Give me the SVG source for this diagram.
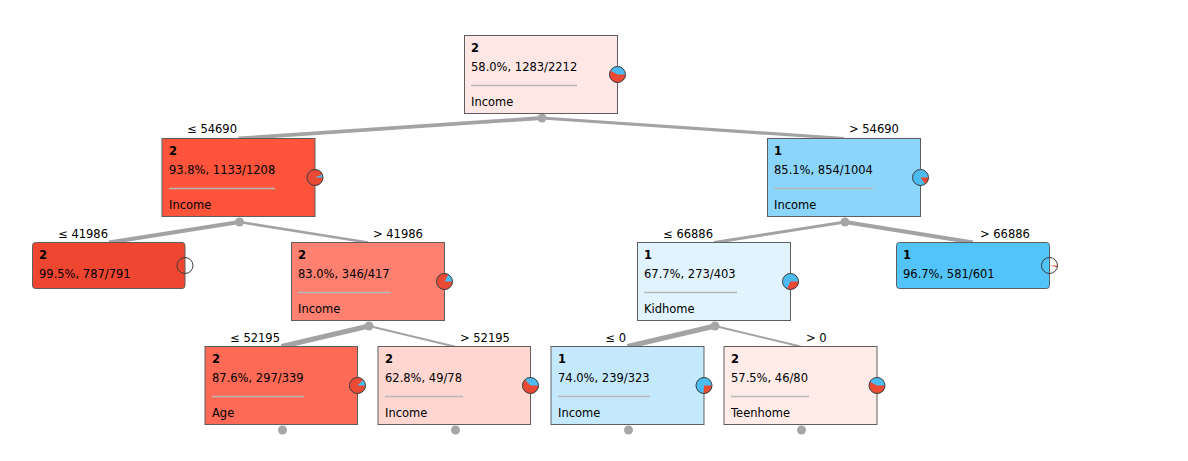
<svg xmlns="http://www.w3.org/2000/svg" width="1188" height="461" viewBox="0 0 1188 461">
<style>
text{font-family:"DejaVu Sans","Verdana",sans-serif;font-size:11.5px;fill:#000}
.b{font-weight:bold}
.box{stroke:#5e5e5e;stroke-width:1}
.sep{stroke:#b8b8b8;stroke-width:1.5}
.e{stroke:#a3a3a6;fill:none;stroke-linecap:butt}
.dot{fill:#a6a6a8}
.pb{fill:#4cbcf0}
.pr{fill:#ea4a33}
.po{fill:none;stroke:#3a3a3a;stroke-width:1}
.lt{text-anchor:end}
</style>
<rect width="1188" height="461" fill="#fff"/>
<g id="connectors">
<line class="e" x1="542" y1="118" x2="238.5" y2="138.5" stroke-width="3.8"/>
<line class="e" x1="542" y1="118" x2="844" y2="138.5" stroke-width="3.2"/>
<line class="e" x1="239.5" y1="222" x2="109" y2="242.5" stroke-width="4.3"/>
<line class="e" x1="239.5" y1="222" x2="368" y2="242.5" stroke-width="2.7"/>
<line class="e" x1="845" y1="222" x2="714" y2="242.5" stroke-width="3"/>
<line class="e" x1="845" y1="222" x2="973" y2="242.5" stroke-width="4"/>
<line class="e" x1="369" y1="326" x2="281.5" y2="346.5" stroke-width="5"/>
<line class="e" x1="369" y1="326" x2="454.5" y2="346.5" stroke-width="1.8"/>
<line class="e" x1="715" y1="326" x2="627.5" y2="346.5" stroke-width="5"/>
<line class="e" x1="715" y1="326" x2="800.5" y2="346.5" stroke-width="2"/>
<g class="dot">
<circle cx="542" cy="118" r="4.5"/>
<circle cx="239.5" cy="222" r="4.5"/>
<circle cx="845" cy="222" r="4.5"/>
<circle cx="369" cy="326" r="4.5"/>
<circle cx="715" cy="326" r="4.5"/>
<circle cx="282.5" cy="430" r="4.5"/>
<circle cx="455.5" cy="430" r="4.5"/>
<circle cx="628.5" cy="430" r="4.5"/>
<circle cx="801.5" cy="430" r="4.5"/>
</g>
<text class="lt" x="237" y="133">≤ 54690</text>
<text x="849" y="133">&gt; 54690</text>
<text class="lt" x="108" y="238">≤ 41986</text>
<text x="373" y="238">&gt; 41986</text>
<text class="lt" x="713" y="238">≤ 66886</text>
<text x="980" y="238">&gt; 66886</text>
<text class="lt" x="280" y="342">≤ 52195</text>
<text x="460" y="342">&gt; 52195</text>
<text class="lt" x="626" y="342">≤ 0</text>
<text x="806" y="342">&gt; 0</text>
</g>
<g id="n0">
<rect class="box" x="464.5" y="35.5" width="153" height="78" fill="#ffe7e5"/>
<text class="b" x="471" y="52">2</text>
<text x="471" y="71">58.0%, 1283/2212</text>
<line class="sep" x1="471" y1="85.5" x2="577" y2="85.5"/>
<text x="471" y="106">Income</text>
<circle class="pb" cx="617.5" cy="74.5" r="8"/>
<path class="pr" d="M617.5,74.5 L625.5,74.5 A8,8 0 1 1 610.49,70.65 Z"/>
<circle class="po" cx="617.5" cy="74.5" r="8"/>
</g>
<g id="n1">
<rect class="box" x="162" y="138.5" width="153" height="78" fill="#fd543b"/>
<text class="b" x="169" y="155">2</text>
<text x="169" y="174">93.8%, 1133/1208</text>
<line class="sep" x1="169" y1="188.5" x2="275" y2="188.5"/>
<text x="169" y="209">Income</text>
<circle class="pb" cx="315" cy="177.5" r="8"/>
<path class="pr" d="M315,177.5 L323,177.5 A8,8 0 1 1 322.4,174.46 Z"/>
<circle class="po" cx="315" cy="177.5" r="8"/>
</g>
<g id="n2">
<rect class="box" x="767.5" y="138.5" width="153" height="78" fill="#8bd5fb"/>
<text class="b" x="774" y="155">1</text>
<text x="774" y="174">85.1%, 854/1004</text>
<line class="sep" x1="774" y1="188.5" x2="873" y2="188.5"/>
<text x="774" y="209">Income</text>
<circle class="pb" cx="920.5" cy="177.5" r="8"/>
<path class="pr" d="M920.5,177.5 L928.5,177.5 A8,8 0 0 1 925.25,183.94 Z"/>
<circle class="po" cx="920.5" cy="177.5" r="8"/>
</g>
<g id="n3">
<rect class="box" x="32.5" y="242.5" width="152.5" height="46" rx="3" fill="#ef4631"/>
<text class="b" x="39" y="259">2</text>
<text x="39" y="278">99.5%, 787/791</text>
<circle class="po" cx="185" cy="265.5" r="8"/>
</g>
<g id="n4">
<rect class="box" x="291.5" y="242.5" width="153" height="78" fill="#fe8070"/>
<text class="b" x="298" y="259">2</text>
<text x="298" y="278">83.0%, 346/417</text>
<line class="sep" x1="298" y1="292.5" x2="391" y2="292.5"/>
<text x="298" y="313">Income</text>
<circle class="pb" cx="444.5" cy="281.5" r="8"/>
<path class="pr" d="M444.5,281.5 L452.5,281.5 A8,8 0 1 1 448.35,274.49 Z"/>
<circle class="po" cx="444.5" cy="281.5" r="8"/>
</g>
<g id="n9">
<rect class="box" x="637.5" y="242.5" width="153" height="78" fill="#e1f3fc"/>
<text class="b" x="644" y="259">1</text>
<text x="644" y="278">67.7%, 273/403</text>
<line class="sep" x1="644" y1="292.5" x2="737" y2="292.5"/>
<text x="644" y="313">Kidhome</text>
<circle class="pb" cx="790.5" cy="281.5" r="8"/>
<path class="pr" d="M790.5,281.5 L798.5,281.5 A8,8 0 0 1 786.98,288.68 Z"/>
<circle class="po" cx="790.5" cy="281.5" r="8"/>
</g>
<g id="n10">
<rect class="box" x="896.5" y="242.5" width="153" height="46" rx="3" fill="#52c4fa"/>
<text class="b" x="903" y="259">1</text>
<text x="903" y="278">96.7%, 581/601</text>
<path class="pr" d="M1049.5,265.5 L1057.5,265.5 A8,8 0 0 1 1057.32,267.16 Z"/>
<circle class="po" cx="1049.5" cy="265.5" r="8"/>
</g>
<g id="n5">
<rect class="box" x="205" y="346.5" width="152.5" height="78" fill="#fe6a55"/>
<text class="b" x="212" y="363">2</text>
<text x="212" y="382">87.6%, 297/339</text>
<line class="sep" x1="212" y1="396.5" x2="304" y2="396.5"/>
<text x="212" y="417">Age</text>
<circle class="pb" cx="357.5" cy="385.5" r="8"/>
<path class="pr" d="M357.5,385.5 L365.5,385.5 A8,8 0 1 1 363.2,379.88 Z"/>
<circle class="po" cx="357.5" cy="385.5" r="8"/>
</g>
<g id="n6">
<rect class="box" x="378" y="346.5" width="152.5" height="78" fill="#ffd6d0"/>
<text class="b" x="385" y="363">2</text>
<text x="385" y="382">62.8%, 49/78</text>
<line class="sep" x1="385" y1="396.5" x2="463" y2="396.5"/>
<text x="385" y="417">Income</text>
<circle class="pb" cx="530.5" cy="385.5" r="8"/>
<path class="pr" d="M530.5,385.5 L538.5,385.5 A8,8 0 1 1 524.95,379.74 Z"/>
<circle class="po" cx="530.5" cy="385.5" r="8"/>
</g>
<g id="n7">
<rect class="box" x="551" y="346.5" width="153" height="78" fill="#c4e9fc"/>
<text class="b" x="558" y="363">1</text>
<text x="558" y="382">74.0%, 239/323</text>
<line class="sep" x1="558" y1="396.5" x2="650" y2="396.5"/>
<text x="558" y="417">Income</text>
<circle class="pb" cx="704" cy="385.5" r="8"/>
<path class="pr" d="M704,385.5 L712,385.5 A8,8 0 0 1 703.5,393.48 Z"/>
<circle class="po" cx="704" cy="385.5" r="8"/>
</g>
<g id="n8">
<rect class="box" x="724" y="346.5" width="153" height="78" fill="#ffebe8"/>
<text class="b" x="731" y="363">2</text>
<text x="731" y="382">57.5%, 46/80</text>
<line class="sep" x1="731" y1="396.5" x2="809" y2="396.5"/>
<text x="731" y="417">Teenhome</text>
<circle class="pb" cx="877" cy="385.5" r="8"/>
<path class="pr" d="M877,385.5 L885,385.5 A8,8 0 1 1 869.87,381.87 Z"/>
<circle class="po" cx="877" cy="385.5" r="8"/>
</g>
</svg>
